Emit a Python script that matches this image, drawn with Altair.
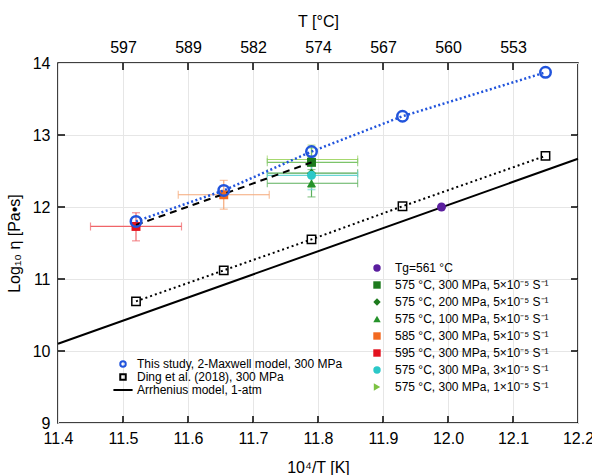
import altair as alt
import pandas as pd

FONT = "Liberation Sans"

# ---- axes ----
x_grid_values = [11.4, 11.5, 11.6, 11.7, 11.8, 11.9, 12.0, 12.1, 12.2]
x_inner_ticks = [11.5, 11.6, 11.7, 11.8, 11.9, 12.0, 12.1]
top_tick_labels = ["597", "589", "582", "574", "567", "560", "553"]
y_grid_values = [9, 10, 11, 12, 13, 14]
y_inner_ticks = [10, 11, 12, 13]

# ---- series ----
study_label = "This study, 2-Maxwell model, 300 MPa"
study_x = [11.52, 11.655, 11.79, 11.93, 12.15]
study_y = [11.80, 12.23, 12.77, 13.26, 13.87]

ding_label = "Ding et al. (2018), 300 MPa"
ding_x = [11.52, 11.655, 11.79, 11.93, 12.15]
ding_y = [10.69, 11.12, 11.55, 12.01, 12.71]

arr_label = "Arrhenius model, 1-atm"
arr_x = [11.4, 12.2]
arr_y = [10.10, 12.67]

fit_x = [11.52, 11.655, 11.79]
fit_y = [11.75, 12.18, 12.62]

# ---- experiments (legend order) ----
exp_labels = [
    "Tg=561 °C",
    "575 °C, 300 MPa, 5×10⁻⁵ S⁻¹",
    "575 °C, 200 MPa, 5×10⁻⁵ S⁻¹",
    "575 °C, 100 MPa, 5×10⁻⁵ S⁻¹",
    "585 °C, 300 MPa, 5×10⁻⁵ S⁻¹",
    "595 °C, 300 MPa, 5×10⁻⁵ S⁻¹",
    "575 °C, 300 MPa, 3×10⁻⁵ S⁻¹",
    "575 °C, 300 MPa, 1×10⁻⁵ S⁻¹",
]
exp_colors = ["#5a1e9e", "#1d7a1d", "#1d7a1d", "#25922a", "#f26a21", "#e3121e", "#2cc8c8", "#7cc242"]
exp_shapes = ["circle", "square", "diamond", "triangle-up", "square", "square", "circle", "triangle-right"]
exp_x = [11.99, 11.79, 11.79, 11.79, 11.655, 11.52, 11.79, 11.79]
exp_y = [12.00, 12.62, 12.47, 12.33, 12.17, 11.73, 12.44, 12.66]
exp_xlo = [None, 11.722, 11.722, 11.722, 11.585, 11.45, 11.722, 11.722]
exp_xhi = [None, 11.861, 11.861, 11.861, 11.725, 11.59, 11.861, 11.861]
exp_ylo = [None, 12.42, 12.27, 12.14, 11.97, 11.53, 12.24, 12.46]
exp_yhi = [None, 12.82, 12.67, 12.52, 12.37, 11.92, 12.64, 12.86]
exp_ecolor = [None, "#7cc46a", "#55aa55", "#5cb05c", "#f5a878", "#f06468", "#6ad6d6", "#a6d86e"]
draw_order = [7, 2, 3, 1, 6, 4, 5, 0]

study_df = pd.DataFrame({"x": study_x, "y": study_y})
ding_df = pd.DataFrame({"x": ding_x, "y": ding_y})
arr_df = pd.DataFrame({"x": arr_x, "y": arr_y})
fit_df = pd.DataFrame({"x": fit_x, "y": fit_y})
exp_df = pd.DataFrame({
    "label": exp_labels, "x": exp_x, "y": exp_y,
    "xlo": exp_xlo, "xhi": exp_xhi, "ylo": exp_ylo, "yhi": exp_yhi,
    "ecolor": exp_ecolor,
}).iloc[draw_order].reset_index(drop=True)
err_df = exp_df.dropna(subset=["xlo"]).reset_index(drop=True)
legend_df = pd.DataFrame({"series": [study_label, ding_label, arr_label]})

xs = alt.Scale(domain=[11.4, 12.2], nice=False, zero=False)
ys = alt.Scale(domain=[9, 14], nice=False, zero=False)

def X(field, **kw):
    return alt.X(field, type="quantitative", scale=xs, axis=kw.pop("axis", None), **kw)

def Y(field, **kw):
    return alt.Y(field, type="quantitative", scale=ys, axis=kw.pop("axis", None), **kw)

bottom_axis = alt.Axis(values=x_grid_values, format=".1f", title="10⁴/T [K]", grid=True,
                       ticks=False, domain=False, labelFontSize=16, titleFontSize=16,
                       labelPadding=7, titlePadding=13, labelFlush=False, labelOverlap=False)
left_axis = alt.Axis(values=y_grid_values, format="d", title="Log₁₀ η [Pa•s]", grid=True,
                     ticks=False, domain=False, labelFontSize=16, titleFontSize=16,
                     labelPadding=8, titlePadding=10, labelFlush=False, labelOverlap=False)
top_expr = " : ".join(
    f"abs(datum.value - {t}) < 0.01 ? '{l}'" for t, l in zip(x_inner_ticks, top_tick_labels)
) + " : ''"
top_axis = alt.Axis(orient="top", values=x_inner_ticks, labelExpr=top_expr, title="T [°C]",
                    grid=False, ticks=False, domain=False, labelFontSize=16, titleFontSize=16,
                    labelPadding=8, titlePadding=10, labelFlush=False, labelOverlap=False)

# Arrhenius line (carries bottom + left axes)
arr_line = alt.Chart(arr_df).mark_line(color="black", strokeWidth=2).encode(
    x=X("x", axis=bottom_axis), y=Y("y", axis=left_axis))

# inward tick marks
xt_df = pd.DataFrame({"t": x_inner_ticks})
yt_df = pd.DataFrame({"t": y_inner_ticks})
top_ticks = alt.Chart(xt_df).mark_rule(color="black", strokeWidth=1.5).encode(
    x=X("t", axis=top_axis), y=alt.value(0), y2=alt.value(7))
bot_ticks = alt.Chart(xt_df).mark_rule(color="black", strokeWidth=1.5).encode(
    x=X("t"), y=alt.value(360), y2=alt.value(353))
left_ticks = alt.Chart(yt_df).mark_rule(color="black", strokeWidth=1.5).encode(
    y=Y("t"), x=alt.value(0), x2=alt.value(7))
right_ticks = alt.Chart(yt_df).mark_rule(color="black", strokeWidth=1.5).encode(
    y=Y("t"), x=alt.value(520), x2=alt.value(513))

ding_line = alt.Chart(ding_df).mark_line(color="black", strokeWidth=2, strokeDash=[2, 3]).encode(
    x=X("x"), y=Y("y"))
ding_pts = alt.Chart(ding_df).mark_point(shape="square", filled=False, color="black",
                                          strokeWidth=1.5, size=70, opacity=1).encode(
    x=X("x"), y=Y("y"))

# error bars
h_err = alt.Chart(err_df).mark_rule(strokeWidth=1.2).encode(
    x=X("xlo"), x2="xhi", y=Y("y"), color=alt.Color("ecolor:N", scale=None))
h_caps = alt.Chart(err_df).transform_fold(["xlo", "xhi"], as_=["k", "v"]).mark_tick(
    orient="vertical", size=8, thickness=1.2).encode(
    x=X("v"), y=Y("y"), color=alt.Color("ecolor:N", scale=None))
v_err = alt.Chart(err_df).mark_rule(strokeWidth=1.2).encode(
    y=Y("ylo"), y2="yhi", x=X("x"), color=alt.Color("ecolor:N", scale=None))
v_caps = alt.Chart(err_df).transform_fold(["ylo", "yhi"], as_=["k", "v"]).mark_tick(
    orient="horizontal", size=8, thickness=1.2).encode(
    y=Y("v"), x=X("x"), color=alt.Color("ecolor:N", scale=None))

exp_pts = alt.Chart(exp_df).mark_point(filled=True, size=80, opacity=1).encode(
    x=X("x"), y=Y("y"),
    color=alt.Color("label:N", scale=alt.Scale(domain=exp_labels, range=exp_colors),
                    legend=alt.Legend(orient="none", legendX=313, legendY=199, title=None,
                                      labelFont=FONT, labelFontSize=12, labelLimit=300,
                                      symbolSize=55, rowPadding=5, padding=0, labelOffset=12,
                                      symbolStrokeWidth=0)),
    shape=alt.Shape("label:N", scale=alt.Scale(domain=exp_labels, range=exp_shapes)),
)

fit_line = alt.Chart(fit_df).mark_line(color="black", strokeWidth=2, strokeDash=[7, 5]).encode(
    x=X("x"), y=Y("y"))
study_line = alt.Chart(study_df).mark_line(color="#2154dc", strokeWidth=2.5, strokeDash=[2, 2.5]).encode(
    x=X("x"), y=Y("y"))
study_pts = alt.Chart(study_df).mark_point(shape="circle", filled=False, color="#2154dc",
                                            strokeWidth=2.5, size=110, opacity=1).encode(
    x=X("x"), y=Y("y"))

# legend-only layer for the three model series
model_legend = alt.Chart(legend_df).transform_filter("false").mark_point(
    filled=False, strokeWidth=2, opacity=1).encode(
    x=alt.value(0), y=alt.value(0),
    color=alt.Color("series:N", scale=alt.Scale(domain=[study_label, ding_label, arr_label],
                                                  range=["#2154dc", "black", "black"]),
                    legend=alt.Legend(orient="none", legendX=59, legendY=295, title=None,
                                      labelFont=FONT, labelFontSize=12, labelLimit=300,
                                      symbolSize=30, rowPadding=-2, padding=0, labelOffset=8,
                                      symbolStrokeWidth=2)),
    shape=alt.Shape("series:N", scale=alt.Scale(domain=[study_label, ding_label, arr_label],
                                                  range=["circle", "square", "M-3.5,0H3.5"])),
)

chart = alt.layer(
    arr_line, top_ticks, bot_ticks, left_ticks, right_ticks,
    ding_line, ding_pts, h_err, h_caps, v_err, v_caps, exp_pts,
    fit_line, study_line, study_pts, model_legend,
).resolve_scale(color="independent", shape="independent").resolve_axis(
    x="independent", y="independent").properties(
    width=520, height=360,
    autosize=alt.AutoSizeParams(type="none"),
    padding={"left": 58, "top": 63, "right": 14, "bottom": 52},
    background="white",
).configure_view(stroke="black", strokeWidth=1.5).configure_axis(
    labelFont=FONT, titleFont=FONT, labelColor="black", titleColor="black",
    titleFontWeight="normal", gridColor="#e6e6e6", gridWidth=1,
).configure_legend(labelColor="black")

chart.save("out.html", embed_options={"renderer": "svg", "actions": False})
